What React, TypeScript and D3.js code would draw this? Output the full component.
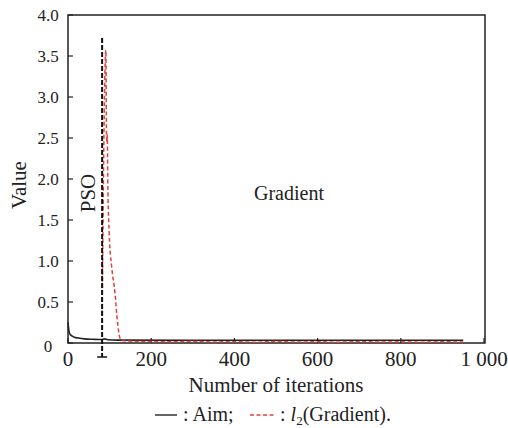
import React from "react";
import * as d3 from "d3";

// Iteration axis ticks and value axis ticks
const xTicks = [0, 200, 400, 600, 800, 1000];
const xTickLabels = ["0", "200", "400", "600", "800", "1 000"];
const yTicks = [0, 0.5, 1, 1.5, 2, 2.5, 3, 3.5, 4];
const yTickLabels = ["0", "0.5", "1.0", "1.5", "2.0", "2.5", "3.0", "3.5", "4.0"];

// Aim (objective) curve
const aimIter = [0, 1, 3, 6, 10, 15, 25, 40, 60, 80, 88, 95, 120, 300, 600, 950];
const aimValue = [0.25, 0.2, 0.13, 0.1, 0.085, 0.07, 0.06, 0.05, 0.045, 0.042, 0.05, 0.04, 0.035, 0.033, 0.033, 0.033];

// l2 norm of the gradient after the PSO stage
const gradIter = [82, 91, 92.5, 93.5, 94, 95, 95.5, 99, 105, 113, 118.5, 125, 130, 160, 200, 250, 300, 350, 400, 450, 500, 550, 600, 650, 700, 750, 800, 850, 900, 950];
const gradValue = [0.35, 3.57, 2.55, 2.45, 2.55, 2.35, 2.0, 1.34, 0.93, 0.61, 0.28, 0.06, 0.03, 0.02, 0.018, 0.015, 0.02, 0.012, 0.016, 0.01, 0.018, 0.012, 0.015, 0.01, 0.017, 0.012, 0.014, 0.01, 0.015, 0.011];

// PSO/gradient switch point
const psoSwitch = 82;
const psoTop = 3.72;

const serif = "Liberation Serif, Times New Roman, DejaVu Serif, serif";

export default function App() {
  const left = 68, right = 485, top = 15, bottom = 343;
  const x = d3.scaleLinear().domain([0, 1000]).range([left, 484]);
  const y = d3.scaleLinear().domain([0, 4]).range([bottom, top]);

  const line = d3
    .line<[number, number]>()
    .x((d) => x(d[0]))
    .y((d) => y(d[1]))
    .curve(d3.curveMonotoneX);

  const aimPath = line(aimIter.map((v, i) => [v, aimValue[i]]) as [number, number][]) || "";
  const gradPath = line(gradIter.map((v, i) => [v, gradValue[i]]) as [number, number][]) || "";

  const px = x(psoSwitch);
  const txt = { fontFamily: serif, fill: "#222" } as React.CSSProperties;

  return (
    <svg
      width={508}
      height={428}
      style={{ position: "absolute", left: 0, top: 0, background: "#fff", fontFamily: serif }}
    >
      {/* plot frame */}
      <rect x={left} y={top} width={right - left} height={bottom - top} fill="none" stroke="#222" strokeWidth={1.5} />

      {/* y ticks (inside) */}
      {yTicks.map((t, i) => (
        <g key={"y" + i}>
          <line x1={left} x2={left + 5} y1={y(t)} y2={y(t)} stroke="#222" strokeWidth={1.2} />
          <text x={48} y={y(t) + 6 + (t === 0 ? 3 : 0)} fontSize={17} textAnchor="middle" style={txt}>
            {yTickLabels[i]}
          </text>
        </g>
      ))}

      {/* x ticks (inside) */}
      {xTicks.map((t, i) => (
        <g key={"x" + i}>
          <line x1={x(t)} x2={x(t)} y1={bottom} y2={bottom - 5} stroke="#222" strokeWidth={1.2} />
          <text x={x(t)} y={366} fontSize={21} textAnchor="middle" style={txt}>
            {xTickLabels[i]}
          </text>
        </g>
      ))}

      {/* curves */}
      <path d={aimPath} fill="none" stroke="#222" strokeWidth={1.6} />
      <path d={gradPath} fill="none" stroke="#e2403a" strokeWidth={1.5} strokeDasharray="4 2.5" />

      {/* PSO stage boundary */}
      <line x1={px} x2={px} y1={y(psoTop)} y2={357} stroke="#111" strokeWidth={2} strokeDasharray="5 2" />
      <line x1={px - 5} x2={px + 5} y1={357} y2={357} stroke="#111" strokeWidth={1.5} />

      {/* annotations */}
      <text transform={`translate(95,193) rotate(-90)`} fontSize={21} textAnchor="middle" style={txt}>
        PSO
      </text>
      <text x={289} y={200} fontSize={20} textAnchor="middle" style={txt}>
        Gradient
      </text>

      {/* axis titles */}
      <text transform={`translate(26,185) rotate(-90)`} fontSize={21} textAnchor="middle" style={txt}>
        Value
      </text>
      <text x={276} y={392} fontSize={21} textAnchor="middle" style={txt}>
        Number of iterations
      </text>

      {/* legend */}
      <line x1={155} x2={177} y1={415} y2={415} stroke="#333" strokeWidth={1.5} />
      <text x={183} y={421} fontSize={20} style={txt}>
        : Aim;
      </text>
      <line x1={250} x2={275} y1={415} y2={415} stroke="#e2403a" strokeWidth={1.5} strokeDasharray="4 2.5" />
      <text x={280} y={421} fontSize={20} style={txt}>
        :{" "}
        <tspan fontStyle="italic">l</tspan>
        <tspan fontSize={13} dy={4}>2</tspan>
        <tspan dy={-4}>(Gradient).</tspan>
      </text>
    </svg>
  );
}
